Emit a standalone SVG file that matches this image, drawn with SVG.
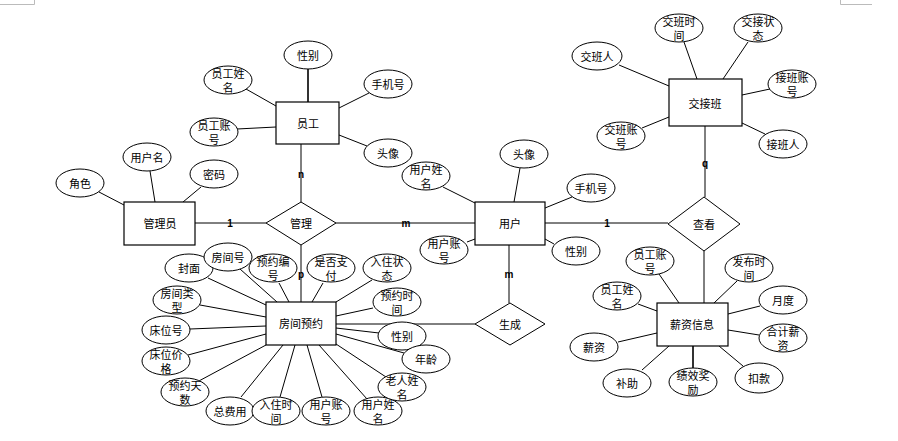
<svg xmlns="http://www.w3.org/2000/svg" width="898" height="441" viewBox="0 0 898 441">
<style>
.ent rect{fill:#fff;stroke:#000;stroke-width:1.2}
.rel polygon{fill:#fff;stroke:#000;stroke-width:1}
.attr ellipse{fill:#fff;stroke:#000;stroke-width:1}
text{font-family:"Noto Sans CJK SC","Noto Sans",sans-serif;font-size:11px;fill:#000;text-anchor:middle;dominant-baseline:central}
.conn line{stroke:#000;stroke-width:1}
.conn line.thick{stroke-width:2;stroke:#333}
.card{font-family:"Liberation Sans",sans-serif;font-size:10px;font-weight:bold}
.mark{stroke:#bbb;stroke-width:1;fill:none}
</style>
<rect width="898" height="441" fill="#fff"/>
<path class="mark" d="M0 4.5H34.5V0M840.5 0V4.5H872"/>
<g id="connectors" class="conn">
<line x1="195" y1="223" x2="266" y2="223"/>
<line x1="336" y1="223" x2="475" y2="223"/>
<line x1="301" y1="144" x2="301" y2="202"/>
<line x1="301" y1="245" x2="301" y2="302"/>
<line x1="545" y1="223" x2="668" y2="223"/>
<line x1="705" y1="126" x2="705" y2="197"/>
<line x1="704" y1="251" x2="704" y2="303"/>
<line x1="509" y1="245" x2="509" y2="303"/>
<line x1="336" y1="324" x2="475" y2="324"/>
<line class="thick" x1="308" y1="69" x2="308" y2="102"/>
<line x1="246" y1="89" x2="276" y2="106"/>
<line x1="369" y1="93" x2="339" y2="108"/>
<line x1="237" y1="129" x2="276" y2="127"/>
<line x1="367" y1="146" x2="339" y2="135"/>
<line x1="99" y1="192" x2="124" y2="205"/>
<line x1="150" y1="171" x2="155" y2="202"/>
<line x1="201" y1="187" x2="183" y2="202"/>
<line x1="443" y1="187" x2="475" y2="203"/>
<line x1="520" y1="168" x2="514" y2="202"/>
<line x1="572" y1="197" x2="545" y2="208"/>
<line x1="467" y1="242" x2="475" y2="239"/>
<line x1="554" y1="244" x2="545" y2="239"/>
<line x1="684" y1="42" x2="697" y2="79"/>
<line x1="748" y1="42" x2="723" y2="79"/>
<line x1="619" y1="65" x2="669" y2="86"/>
<line x1="770" y1="89" x2="742" y2="95"/>
<line x1="642" y1="128" x2="669" y2="117"/>
<line x1="765" y1="134" x2="742" y2="123"/>
<line x1="659" y1="274" x2="679" y2="303"/>
<line x1="737" y1="281" x2="714" y2="303"/>
<line x1="638" y1="304" x2="657" y2="311"/>
<line x1="760" y1="306" x2="728" y2="314"/>
<line x1="618" y1="342" x2="657" y2="333"/>
<line x1="759" y1="335" x2="728" y2="330"/>
<line x1="642" y1="370" x2="669" y2="346"/>
<line class="thick" x1="693" y1="346" x2="693" y2="368"/>
<line x1="743" y1="366" x2="719" y2="346"/>
<line x1="208" y1="278" x2="266" y2="305"/>
<line x1="240" y1="269" x2="277" y2="302"/>
<line x1="279" y1="283" x2="289" y2="302"/>
<line x1="323" y1="283" x2="312" y2="302"/>
<line x1="372" y1="280" x2="336" y2="302"/>
<line x1="373" y1="308" x2="336" y2="316"/>
<line x1="379" y1="333" x2="336" y2="328"/>
<line x1="404" y1="353" x2="336" y2="334"/>
<line x1="386" y1="377" x2="336" y2="344"/>
<line x1="367" y1="399" x2="319" y2="345"/>
<line x1="322" y1="397" x2="307" y2="345"/>
<line x1="280" y1="397" x2="295" y2="345"/>
<line x1="241" y1="397" x2="283" y2="345"/>
<line x1="197" y1="382" x2="266" y2="345"/>
<line x1="188" y1="355" x2="266" y2="334"/>
<line x1="190" y1="329" x2="266" y2="326"/>
<line x1="200" y1="305" x2="266" y2="317"/>
<text class="card" x="230" y="223">1</text>
<text class="card" x="406" y="223">m</text>
<text class="card" x="301" y="174">n</text>
<text class="card" x="301" y="274">p</text>
<text class="card" x="607" y="223">1</text>
<text class="card" x="705" y="163">q</text>
<text class="card" x="509" y="274">m</text>
</g>
<g id="e_staff" class="ent"><rect x="276" y="102" width="63" height="42"/><text x="308" y="123">员工</text></g>
<g id="e_admin" class="ent"><rect x="124" y="202" width="71" height="43"/><text x="160" y="223">管理员</text></g>
<g id="e_user" class="ent"><rect x="475" y="202" width="70" height="43"/><text x="510" y="223">用户</text></g>
<g id="e_shift" class="ent"><rect x="669" y="79" width="73" height="47"/><text x="705" y="103">交接班</text></g>
<g id="e_room" class="ent"><rect x="266" y="302" width="70" height="43"/><text x="301" y="323">房间预约</text></g>
<g id="e_salary" class="ent"><rect x="657" y="303" width="71" height="43"/><text x="692" y="324">薪资信息</text></g>
<g id="r_manage" class="rel"><polygon points="301,202 336,223 301,245 266,223"/><text x="301" y="223">管理</text></g>
<g id="r_view" class="rel"><polygon points="704,197 740,224 704,251 668,224"/><text x="704" y="224">查看</text></g>
<g id="r_gen" class="rel"><polygon points="510,303 545,324 510,345 475,324"/><text x="510" y="324">生成</text></g>
<g id="a_staff_gender" class="attr"><ellipse cx="308" cy="55" rx="24" ry="14"/><text x="308" y="55">性别</text></g>
<g id="a_staff_name" class="attr"><ellipse cx="228" cy="80" rx="24" ry="14"/><text x="228" y="73">员工姓<tspan x="228" dy="14">名</tspan></text></g>
<g id="a_staff_phone" class="attr"><ellipse cx="388" cy="84" rx="24" ry="14"/><text x="388" y="84">手机号</text></g>
<g id="a_staff_acc" class="attr"><ellipse cx="214" cy="132" rx="24" ry="14"/><text x="214" y="125">员工账<tspan x="214" dy="14">号</tspan></text></g>
<g id="a_staff_avatar" class="attr"><ellipse cx="388" cy="153" rx="24" ry="14"/><text x="388" y="153">头像</text></g>
<g id="a_admin_role" class="attr"><ellipse cx="80" cy="183" rx="24" ry="14"/><text x="80" y="183">角色</text></g>
<g id="a_admin_uname" class="attr"><ellipse cx="147" cy="157" rx="24" ry="14"/><text x="147" y="157">用户名</text></g>
<g id="a_admin_pwd" class="attr"><ellipse cx="214" cy="174" rx="24" ry="14"/><text x="214" y="174">密码</text></g>
<g id="a_user_name" class="attr"><ellipse cx="426" cy="176" rx="24" ry="14"/><text x="426" y="169">用户姓<tspan x="426" dy="14">名</tspan></text></g>
<g id="a_user_avatar" class="attr"><ellipse cx="524" cy="154" rx="24" ry="14"/><text x="524" y="154">头像</text></g>
<g id="a_user_phone" class="attr"><ellipse cx="591" cy="188" rx="24" ry="14"/><text x="591" y="188">手机号</text></g>
<g id="a_user_acc" class="attr"><ellipse cx="444" cy="250" rx="24" ry="14"/><text x="444" y="243">用户账<tspan x="444" dy="14">号</tspan></text></g>
<g id="a_user_gender" class="attr"><ellipse cx="576" cy="251" rx="24" ry="14"/><text x="576" y="251">性别</text></g>
<g id="a_shift_time" class="attr"><ellipse cx="679" cy="28" rx="24" ry="14"/><text x="679" y="21">交班时<tspan x="679" dy="14">间</tspan></text></g>
<g id="a_shift_state" class="attr"><ellipse cx="758" cy="28" rx="24" ry="14"/><text x="758" y="21">交接状<tspan x="758" dy="14">态</tspan></text></g>
<g id="a_shift_giver" class="attr"><ellipse cx="597" cy="56" rx="25" ry="14"/><text x="597" y="56">交班人</text></g>
<g id="a_shift_racc" class="attr"><ellipse cx="792" cy="84" rx="24" ry="14"/><text x="792" y="77">接班账<tspan x="792" dy="14">号</tspan></text></g>
<g id="a_shift_gacc" class="attr"><ellipse cx="621" cy="136" rx="24" ry="14"/><text x="621" y="129">交班账<tspan x="621" dy="14">号</tspan></text></g>
<g id="a_shift_receiver" class="attr"><ellipse cx="783" cy="144" rx="24" ry="14"/><text x="783" y="144">接班人</text></g>
<g id="a_sal_acc" class="attr"><ellipse cx="650" cy="261" rx="24" ry="14"/><text x="650" y="254">员工账<tspan x="650" dy="14">号</tspan></text></g>
<g id="a_sal_time" class="attr"><ellipse cx="749" cy="268" rx="24" ry="14"/><text x="749" y="261">发布时<tspan x="749" dy="14">间</tspan></text></g>
<g id="a_sal_name" class="attr"><ellipse cx="617" cy="296" rx="24" ry="14"/><text x="617" y="289">员工姓<tspan x="617" dy="14">名</tspan></text></g>
<g id="a_sal_month" class="attr"><ellipse cx="783" cy="300" rx="24" ry="14"/><text x="783" y="300">月度</text></g>
<g id="a_sal_salary" class="attr"><ellipse cx="594" cy="347" rx="24" ry="14"/><text x="594" y="347">薪资</text></g>
<g id="a_sal_total" class="attr"><ellipse cx="783" cy="338" rx="24" ry="14"/><text x="783" y="331">合计薪<tspan x="783" dy="14">资</tspan></text></g>
<g id="a_sal_allow" class="attr"><ellipse cx="627" cy="383" rx="24" ry="14"/><text x="627" y="383">补助</text></g>
<g id="a_sal_bonus" class="attr"><ellipse cx="693" cy="382" rx="24" ry="14"/><text x="693" y="375">绩效奖<tspan x="693" dy="14">励</tspan></text></g>
<g id="a_sal_deduct" class="attr"><ellipse cx="759" cy="378" rx="24" ry="15"/><text x="759" y="378">扣款</text></g>
<g id="a_room_cover" class="attr"><ellipse cx="189" cy="268" rx="24" ry="14"/><text x="189" y="268">封面</text></g>
<g id="a_room_no" class="attr"><ellipse cx="228" cy="257" rx="24" ry="14"/><text x="228" y="257">房间号</text></g>
<g id="a_room_resno" class="attr"><ellipse cx="273" cy="268" rx="24" ry="14"/><text x="273" y="261">预约编<tspan x="273" dy="14">号</tspan></text></g>
<g id="a_room_paid" class="attr"><ellipse cx="331" cy="268" rx="24" ry="14"/><text x="331" y="261">是否支<tspan x="331" dy="14">付</tspan></text></g>
<g id="a_room_state" class="attr"><ellipse cx="387" cy="268" rx="24" ry="14"/><text x="387" y="261">入住状<tspan x="387" dy="14">态</tspan></text></g>
<g id="a_room_restime" class="attr"><ellipse cx="397" cy="302" rx="24" ry="14"/><text x="397" y="295">预约时<tspan x="397" dy="14">间</tspan></text></g>
<g id="a_room_gender" class="attr"><ellipse cx="402" cy="336" rx="24" ry="14"/><text x="402" y="336">性别</text></g>
<g id="a_room_age" class="attr"><ellipse cx="426" cy="359" rx="24" ry="14"/><text x="426" y="359">年龄</text></g>
<g id="a_room_uname" class="attr"><ellipse cx="378" cy="411" rx="24" ry="14"/><text x="378" y="404">用户姓<tspan x="378" dy="14">名</tspan></text></g>
<g id="a_room_elder" class="attr"><ellipse cx="402" cy="387" rx="24" ry="14"/><text x="402" y="380">老人姓<tspan x="402" dy="14">名</tspan></text></g>
<g id="a_room_uacc" class="attr"><ellipse cx="326" cy="411" rx="24" ry="14"/><text x="326" y="404">用户账<tspan x="326" dy="14">号</tspan></text></g>
<g id="a_room_total" class="attr"><ellipse cx="230" cy="411" rx="24" ry="14"/><text x="230" y="411">总费用</text></g>
<g id="a_room_checkin" class="attr"><ellipse cx="276" cy="411" rx="24" ry="14"/><text x="276" y="404">入住时<tspan x="276" dy="14">间</tspan></text></g>
<g id="a_room_days" class="attr"><ellipse cx="185" cy="392" rx="24" ry="14"/><text x="185" y="385">预约天<tspan x="185" dy="14">数</tspan></text></g>
<g id="a_room_bedprice" class="attr"><ellipse cx="166" cy="361" rx="24" ry="14"/><text x="166" y="354">床位价<tspan x="166" dy="14">格</tspan></text></g>
<g id="a_room_bedno" class="attr"><ellipse cx="166" cy="330" rx="24" ry="14"/><text x="166" y="330">床位号</text></g>
<g id="a_room_type" class="attr"><ellipse cx="177" cy="300" rx="24" ry="14"/><text x="177" y="293">房间类<tspan x="177" dy="14">型</tspan></text></g>
</svg>
